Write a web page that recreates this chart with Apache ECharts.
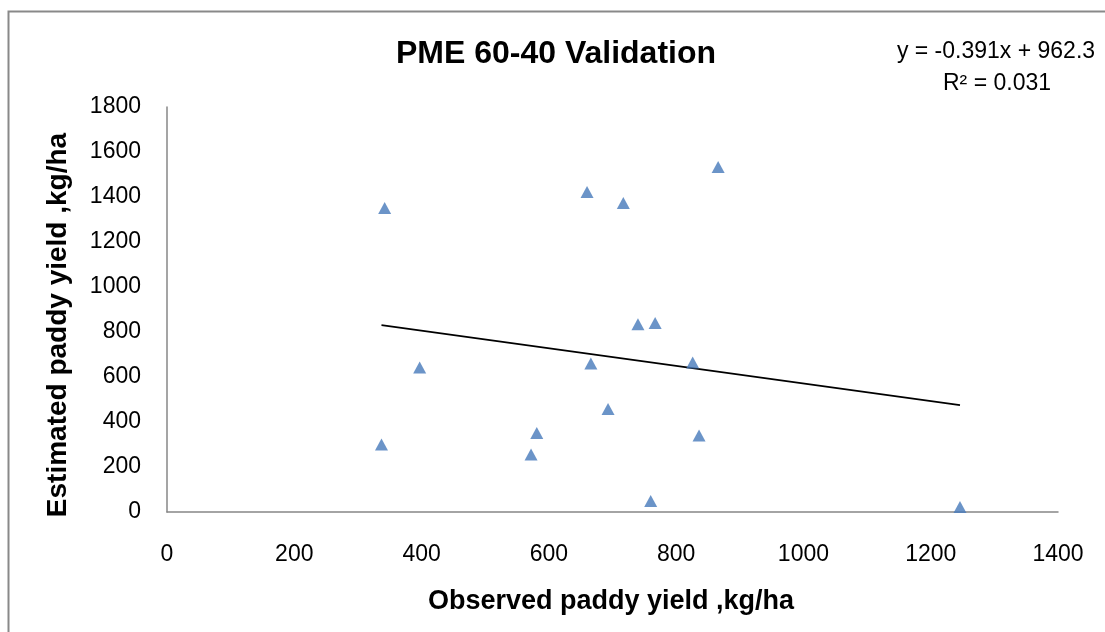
<!DOCTYPE html>
<html>
<head>
<meta charset="utf-8">
<script src="https://cdn.jsdelivr.net/npm/echarts@6/dist/echarts.min.js"></script>
<style>
html,body{margin:0;padding:0;background:#fff;}
#chart{width:1105px;height:632px;}
</style>
</head>
<body>
<div id="chart"></div>
<script>
// Data
const observed  = [342, 337, 397, 572, 581, 660, 666, 717, 693, 740, 767, 760, 826, 836, 866, 1246];
const estimated = [1351, 300, 642, 256, 351, 1422, 660, 1373, 458, 834, 840, 49, 665, 340, 1533, 22];
const xTicks = [0, 200, 400, 600, 800, 1000, 1200, 1400];
const yTicks = [0, 200, 400, 600, 800, 1000, 1200, 1400, 1600, 1800];
const trendSlope = -0.391;
const trendIntercept = 962.3;
const titleText = 'PME 60-40 Validation';
const xTitle = 'Observed paddy yield ,kg/ha';
const yTitle = 'Estimated paddy yield ,kg/ha';
const eqText = 'y = -0.391x + 962.3';
const r2Text = 'R\u00B2 = 0.031';

const points = observed.map((x, i) => [x, estimated[i]]);
const xMin = Math.min(...observed), xMax = Math.max(...observed);
const trend = [[xMin, trendSlope * xMin + trendIntercept], [xMax, trendSlope * xMax + trendIntercept]];

const FONT = 'Liberation Sans';
const chart = echarts.init(document.getElementById('chart'), null, {renderer: 'canvas'});
chart.setOption({
  animation: false,
  backgroundColor: '#ffffff',
  grid: {left: 167, right: 47, top: 107, bottom: 120, containLabel: false},
  xAxis: {
    type: 'value', min: xTicks[0], max: xTicks[xTicks.length - 1], interval: 200,
    axisLine: {show: true, onZero: false, lineStyle: {color: '#878787', width: 1.5}},
    axisTick: {show: false},
    splitLine: {show: false},
    axisLabel: {margin: 31, fontFamily: FONT, fontSize: 23, color: '#000', formatter: v => String(v)}
  },
  yAxis: {
    type: 'value', min: yTicks[0], max: yTicks[yTicks.length - 1], interval: 200,
    axisLine: {show: true, onZero: false, lineStyle: {color: '#878787', width: 1.5}},
    axisTick: {show: false},
    splitLine: {show: false},
    axisLabel: {margin: 26, fontFamily: FONT, fontSize: 23, color: '#000', formatter: v => String(v)}
  },
  series: [
    {
      type: 'line', data: trend, symbol: 'none', silent: true,
      lineStyle: {color: '#000', width: 1.6}, z: 2
    },
    {
      type: 'scatter', data: points, symbol: 'triangle', symbolSize: [13, 12],
      itemStyle: {color: '#4679BA'}, z: 3
    }
  ],
  graphic: [
    {type: 'rect', left: 6, top: 9, shape: {width: 1200, height: 700},
     style: {fill: 'none', stroke: '#898989', lineWidth: 2}, silent: true},
    {type: 'text', x: 556, y: 54, style: {text: titleText, font: 'bold 32px "Liberation Sans"', fill: '#000', align: 'center', verticalAlign: 'middle'}},
    {type: 'text', x: 996, y: 52, style: {text: eqText, font: '23px "Liberation Sans"', fill: '#000', align: 'center', verticalAlign: 'middle'}},
    {type: 'text', x: 997, y: 84, style: {text: r2Text, font: '23px "Liberation Sans"', fill: '#000', align: 'center', verticalAlign: 'middle'}},
    {type: 'text', x: 611, y: 602, style: {text: xTitle, font: 'bold 27px "Liberation Sans"', fill: '#000', align: 'center', verticalAlign: 'middle'}},
    {type: 'text', x: 58, y: 325, rotation: Math.PI / 2, style: {text: yTitle, font: 'bold 28px "Liberation Sans"', fill: '#000', align: 'center', verticalAlign: 'middle'}}
  ]
});
</script>
</body>
</html>
